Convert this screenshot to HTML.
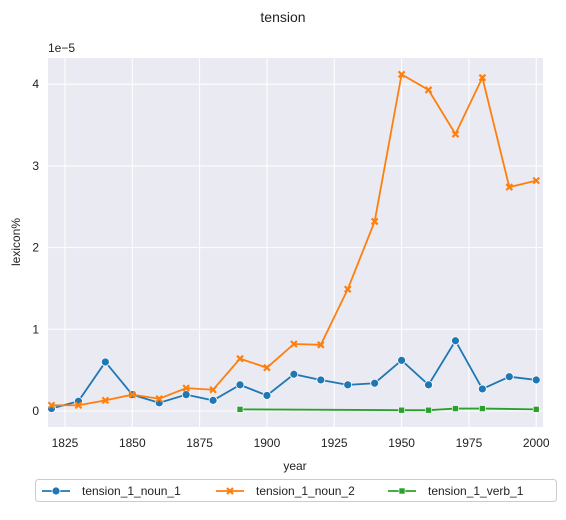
<!DOCTYPE html>
<html><head><meta charset="utf-8"><style>
body{margin:0;background:#fff;font-family:"Liberation Sans","DejaVu Sans",sans-serif;}
</style></head><body>
<svg width="566" height="515" id="c">
<text x="283" y="22" text-anchor="middle" font-size="14" fill="#222">tension</text>
<rect x="48" y="58" width="495" height="369" fill="#eaeaf2"/>
<g id="grid"></g><g id="series"></g><g id="ticks"></g>
<text x="48" y="52" font-size="12" fill="#222">1e−5</text>
<text x="295" y="470" text-anchor="middle" font-size="12" fill="#222">year</text>
<text transform="translate(20,242) rotate(-90)" text-anchor="middle" font-size="12" fill="#222">lexicon%</text>
<g>
<rect x="35.5" y="479.5" width="521" height="22" rx="3" fill="#fff" stroke="#ccc"/>
<g id="legend"></g>
</g>
</svg>
<script>
const years=[1820,1830,1840,1850,1860,1870,1880,1890,1900,1910,1920,1930,1940,1950,1960,1970,1980,1990,2000];
const noun1=[0.03,0.12,0.6,0.2,0.1,0.2,0.13,0.32,0.19,0.45,0.38,0.32,0.34,0.62,0.32,0.86,0.27,0.42,0.38];
const noun2=[0.07,0.07,0.13,0.2,0.15,0.28,0.26,0.64,0.53,0.82,0.81,1.49,2.32,4.12,3.93,3.39,4.08,2.74,2.82];
const verbYears=[1890,1950,1960,1970,1980,2000];
const verb1=[0.02,0.01,0.01,0.03,0.03,0.02];
const xTicks=[1825,1850,1875,1900,1925,1950,1975,2000];
const yTicks=[0,1,2,3,4];
const seriesNames=["tension_1_noun_1","tension_1_noun_2","tension_1_verb_1"];
const NS="http://www.w3.org/2000/svg";
const X=v=>48+(v-1818.7)*2.693, Y=v=>411-v*81.7;
function mk(p,t,a){const e=document.createElementNS(NS,t);for(const k in a)e.setAttribute(k,a[k]);p.appendChild(e);return e;}
const grid=document.getElementById('grid'),ticks=document.getElementById('ticks'),ser=document.getElementById('series'),leg=document.getElementById('legend');
xTicks.forEach(t=>{const l=mk(grid,'line',{x1:X(t),x2:X(t),y1:58,y2:427,stroke:'#fff','stroke-width':1});


const tx=mk(ticks,'text',{x:X(t),y:447,'text-anchor':'middle','font-size':12,fill:'#222'});tx.textContent=t;

});
yTicks.forEach(t=>{const l=mk(grid,'line',{x1:48,x2:543,y1:Y(t),y2:Y(t),stroke:'#fff','stroke-width':1});


const tx=mk(ticks,'text',{x:39,y:Y(t)+4,'text-anchor':'end','font-size':12,fill:'#222'});tx.textContent=t;

});
function marker(p,type,x,y,c){let m;
if(type==='o')m=mk(p,'circle',{cx:x,cy:y,r:4,fill:c,stroke:'#fff','stroke-width':0.8});
else if(type==='x')m=mk(p,'path',{d:`M${x-3},${y-3}L${x+3},${y+3}M${x-3},${y+3}L${x+3},${y-3}`,stroke:c,'stroke-width':2.2});
else m=mk(p,'rect',{x:x-3,y:y-3,width:6,height:6,fill:c,stroke:'#fff','stroke-width':0.6});
return m;}
function draw(xs,vals,c,type,name){const g=mk(ser,'g',{});


mk(g,'polyline',{points:xs.map((x,i)=>X(x)+','+Y(vals[i])).join(' '),fill:'none',stroke:c,'stroke-width':1.8});
xs.forEach((x,i)=>{const m=marker(g,type,X(x),Y(vals[i]),c);

});}
draw(years,noun1,'#1f77b4','o','series-noun-1');
draw(years,noun2,'#ff7f0e','x','series-noun-2');
draw(verbYears,verb1,'#2ca02c','s','series-verb-1');
const lx=[42,216,388],cols=['#1f77b4','#ff7f0e','#2ca02c'],types=['o','x','s'];
seriesNames.forEach((n,i)=>{const g=mk(leg,'g',{});


mk(g,'line',{x1:lx[i],x2:lx[i]+28,y1:491,y2:491,stroke:cols[i],'stroke-width':1.8});
marker(g,types[i],lx[i]+14,491,cols[i]);
const t=mk(g,'text',{x:lx[i]+40,y:495,'font-size':12,fill:'#222'});t.textContent=n;});
</script>
</body></html>
